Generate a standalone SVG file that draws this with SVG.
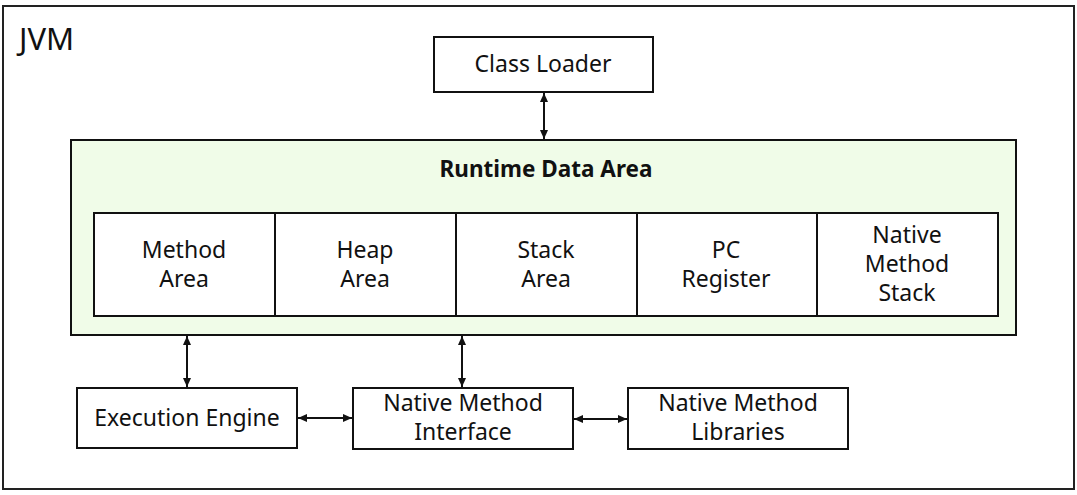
<svg xmlns="http://www.w3.org/2000/svg" width="1077" height="495" viewBox="0 0 1077 495">
<style>
text{font-family:"Noto Sans","Liberation Sans",sans-serif;fill:#111;text-anchor:middle}
.t{font-size:23px}
.box{fill:#fff;stroke:#111;stroke-width:2}
.conn{stroke:#111;stroke-width:2;fill:none;marker-start:url(#ah);marker-end:url(#ah)}
</style>
<defs>
<marker id="ah" markerUnits="userSpaceOnUse" markerWidth="9" markerHeight="8" refX="9" refY="4" orient="auto-start-reverse">
<path d="M0,0 L9,4 L0,8 z" fill="#111"/>
</marker>
</defs>
<rect width="1077" height="495" fill="#fff"/>
<g id="jvm">
<rect x="3" y="6" width="1071" height="483" fill="#fff" stroke="#222" stroke-width="2"/>
<text x="19" y="50" style="font-size:31px;text-anchor:start">JVM</text>
</g>
<g id="class-loader">
<rect class="box" x="434" y="37" width="219" height="55"/>
<text class="t" x="543" y="72">Class Loader</text>
</g>
<g id="runtime-data-area">
<rect x="71" y="140" width="945" height="195" fill="#f0fce8" stroke="#111" stroke-width="2"/>
<text x="546" y="177" style="font-size:22.5px;font-weight:bold">Runtime Data Area</text>
</g>
<g id="method-area">
<rect class="box" x="94" y="213" width="181" height="103"/>
<text class="t" x="184" y="258">Method</text>
<text class="t" x="184" y="287">Area</text>
</g>
<g id="heap-area">
<rect class="box" x="275" y="213" width="181" height="103"/>
<text class="t" x="365" y="258">Heap</text>
<text class="t" x="365" y="287">Area</text>
</g>
<g id="stack-area">
<rect class="box" x="456" y="213" width="181" height="103"/>
<text class="t" x="546" y="258">Stack</text>
<text class="t" x="546" y="287">Area</text>
</g>
<g id="pc-register">
<rect class="box" x="637" y="213" width="180" height="103"/>
<text class="t" x="726" y="258">PC</text>
<text class="t" x="726" y="287">Register</text>
</g>
<g id="native-method-stack">
<rect class="box" x="817" y="213" width="181" height="103"/>
<text class="t" x="907" y="243">Native</text>
<text class="t" x="907" y="272">Method</text>
<text class="t" x="907" y="301">Stack</text>
</g>
<g id="execution-engine">
<rect class="box" x="77" y="388" width="220" height="60"/>
<text class="t" x="187" y="426">Execution Engine</text>
</g>
<g id="native-method-interface">
<rect class="box" x="353" y="388" width="220" height="61"/>
<text class="t" x="463" y="411">Native Method</text>
<text class="t" x="463" y="440">Interface</text>
</g>
<g id="native-method-libraries">
<rect class="box" x="628" y="388" width="220" height="61"/>
<text class="t" x="738" y="411">Native Method</text>
<text class="t" x="738" y="440">Libraries</text>
</g>
<g id="connectors">
<line class="conn" x1="544" y1="93" x2="544" y2="139"/>
<line class="conn" x1="187" y1="336" x2="187" y2="387"/>
<line class="conn" x1="462" y1="336" x2="462" y2="387"/>
<line class="conn" x1="298" y1="418" x2="352" y2="418"/>
<line class="conn" x1="574" y1="419" x2="627" y2="419"/>
</g>
</svg>
